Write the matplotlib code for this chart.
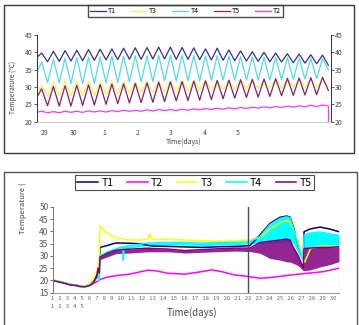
import matplotlib.pyplot as plt
import numpy as np
from matplotlib.patches import Rectangle

plt.rcParams['font.family'] = ['Noto Sans CJK KR', 'DejaVu Sans']

# ---------------- top chart: value at each trough / peak of the daily cycles ----------------
t1_trough = [38.3, 37.3, 37.4, 37.5, 37.6, 37.7, 37.8, 37.9, 38.0, 38.0, 38.1, 38.1, 38.0,
             38.0, 37.9, 37.8, 37.7, 37.6, 37.5, 37.4, 37.3, 37.2, 37.0, 36.9, 36.7, 36.3]
t1_peak = [39.8, 40.3, 40.5, 40.6, 40.8, 40.9, 41.0, 41.2, 41.3, 41.4, 41.5, 41.5, 41.4,
           41.3, 41.0, 41.2, 40.7, 40.4, 40.2, 40.0, 39.8, 39.6, 39.5, 39.3, 39.2]
t4_trough = [33.5, 31.3, 31.2, 31.0, 31.0, 31.0, 31.2, 31.3, 31.5, 31.5, 31.6, 31.8, 31.8,
             31.8, 31.8, 31.9, 32.0, 32.0, 32.0, 32.0, 32.0, 32.1, 32.2, 32.3, 32.4, 35.0]
t4_peak = [37.2, 38.0, 38.3, 38.5, 38.6, 38.7, 38.8, 38.9, 39.0, 39.0, 39.1, 39.2, 39.2,
           39.1, 39.0, 39.0, 38.9, 38.8, 38.7, 38.6, 38.6, 38.5, 38.4, 38.3, 38.2]
t3_trough = [27.5, 27.3, 27.4, 27.5, 27.6, 27.7, 27.8, 28.0, 28.2, 28.4, 28.5, 28.7, 28.8,
             29.0, 29.1, 29.2, 29.3, 29.4, 29.5, 29.6, 29.7, 29.8, 29.9, 30.0, 30.0, 30.2]
t3_peak = [30.5, 31.5, 31.8, 31.6, 31.7, 31.5, 31.6, 31.5, 31.5, 31.6, 31.6, 31.7, 31.7,
           31.8, 31.8, 31.8, 31.9, 31.9, 32.0, 32.0, 32.1, 32.1, 32.2, 32.2, 32.3]
t5_trough = [26.5, 24.6, 24.5, 24.5, 24.7, 24.8, 25.0, 25.2, 25.4, 25.5, 25.6, 25.8, 26.0,
             26.1, 26.2, 26.4, 26.6, 26.8, 27.0, 27.1, 27.3, 27.5, 27.6, 27.7, 27.8, 29.0]
t5_peak = [29.5, 30.2, 30.4, 30.5, 30.6, 30.7, 30.8, 30.9, 31.0, 31.2, 31.4, 31.5, 31.6,
           31.7, 31.8, 31.9, 32.0, 32.1, 32.2, 32.3, 32.4, 32.5, 32.6, 32.7, 32.8]
t2_trough = [22.7, 22.6, 22.6, 22.7, 22.7, 22.8, 22.8, 22.9, 23.0, 23.0, 23.1, 23.2, 23.2,
             23.3, 23.4, 23.5, 23.6, 23.7, 23.8, 23.9, 24.0, 24.1, 24.2, 24.3, 24.4, 24.5]
t2_peak = [23.0, 22.9, 23.0, 23.0, 23.1, 23.1, 23.2, 23.3, 23.3, 23.4, 23.5, 23.5, 23.6,
           23.7, 23.8, 23.9, 24.0, 24.1, 24.2, 24.3, 24.4, 24.5, 24.6, 24.7, 24.8]
top_day_labels = ['29', '30', '1', '2', '3', '4', '5']

# ---------------- bottom chart ----------------
t1_day = [0, 1.05, 1.75, 2.46, 2.8, 3.33, 3.85, 4.2, 4.56, 4.75, 4.83, 4.9, 5.6, 6.27, 6.66,
          8.05, 9.1, 9.94, 10.68, 12.08, 13.83, 15.58, 17.68, 19.08, 20.65, 21.7, 22.75,
          23.8, 24.5, 24.85, 25.2, 25.73, 26.25, 26.33, 26.95, 28.0, 29.05, 30]
t1_val = [20.0, 19.2, 18.4, 18.1, 17.8, 17.6, 18.4, 19.6, 22.0, 24.5, 23.5, 33.5, 34.2, 35.0,
          35.3, 35.2, 35.0, 34.3, 34.0, 33.9, 33.7, 33.5, 33.8, 33.9, 34.2, 38.6, 43.3,
          45.8, 46.3, 45.9, 42.0, 33.8, 29.0, 39.9, 41.0, 41.8, 41.0, 39.9]

t2_day = [0, 1.05, 1.75, 2.46, 2.8, 3.33, 3.85, 4.2, 4.56, 4.73, 4.83, 4.9, 5.6, 6.66, 8.05,
          9.1, 9.94, 10.68, 12.08, 13.83, 15.58, 16.63, 17.68, 19.08, 20.13, 20.65, 21.7,
          23.1, 24.85, 26.6, 28.35, 30]
t2_val = [20.1, 19.0, 18.3, 17.9, 17.6, 17.5, 18.0, 18.8, 19.5, 19.8, 20.0, 20.4, 21.3, 22.0,
          22.6, 23.5, 24.2, 24.0, 22.9, 22.6, 23.6, 24.3, 23.6, 22.2, 21.8, 21.5, 20.9,
          21.3, 22.2, 22.9, 23.6, 25.0]

t3_day = [0, 1.05, 1.75, 2.46, 2.8, 3.33, 3.85, 4.2, 4.56, 4.73, 4.83, 4.9, 5.6, 6.66, 8.05,
          9.1, 9.94, 10.1, 10.3, 10.68, 12.08, 13.83, 15.58, 17.68, 19.08, 20.65, 21.7,
          22.75, 23.8, 24.5, 24.85, 25.73, 26.25, 26.4, 27.0, 28.0, 29.0, 30]
t3_val = [20.3, 19.3, 18.5, 18.2, 17.9, 17.8, 18.8, 20.5, 24.0, 26.0, 30.0, 42.3, 39.4, 37.3,
          36.5, 36.5, 36.8, 39.0, 37.0, 36.8, 36.8, 36.5, 36.2, 36.0, 36.3, 36.5, 37.5,
          41.0, 43.5, 44.5, 44.0, 36.0, 28.5, 27.5, 33.0, 34.0, 34.0, 34.0]

t4_day = [0, 1.05, 1.75, 2.46, 2.8, 3.33, 3.85, 4.2, 4.56, 4.73, 4.8, 4.9, 5.6, 6.27, 7.3,
          7.35, 7.45, 8.05, 8.75, 9.94, 12.08, 13.83, 15.58, 17.68, 19.08, 20.65, 21.7,
          22.75, 23.8, 24.5, 24.85, 25.2, 25.73, 26.25, 26.33, 26.95, 28.0, 29.05, 30]
t4_val = [20.1, 19.1, 18.4, 18.0, 17.7, 17.5, 18.3, 19.3, 21.0, 22.0, 20.0, 30.0, 31.5, 32.5,
          33.8, 28.3, 33.8, 34.3, 34.6, 35.3, 35.5, 35.5, 35.2, 35.5, 35.6, 35.8, 38.0,
          42.8, 45.3, 46.0, 45.6, 41.5, 34.0, 28.5, 38.5, 39.3, 39.8, 39.0, 38.5]
# lower edge of the dense T4 swings, from day 4.9 on
t4_low = [29.0, 30.5, 31.5, 32.8, 28.3, 32.8, 33.3, 33.6, 34.3, 34.5, 34.5, 34.2, 34.5, 34.6,
          35.0, 35.0, 35.2, 35.5, 36.0, 36.0, 35.0, 31.0, 27.5, 33.0, 33.0, 33.2, 33.5, 34.0]

t5_day = [0, 1.05, 1.75, 2.46, 2.8, 3.33, 3.85, 4.2, 4.56, 4.7, 4.83, 4.9, 5.6, 6.27, 6.66,
          8.05, 9.1, 9.94, 10.68, 12.08, 13.83, 15.58, 17.68, 19.08, 20.65, 21.7, 22.75,
          23.8, 24.5, 24.85, 25.2, 25.73, 26.25, 26.33, 26.95, 28.0, 29.05, 30]
t5_val = [19.9, 19.0, 18.2, 17.9, 17.5, 17.4, 18.0, 19.0, 21.5, 25.0, 23.0, 29.5, 31.0, 32.0,
          32.4, 32.8, 33.0, 33.2, 33.0, 32.8, 32.2, 32.6, 33.0, 33.2, 33.2, 35.5, 36.0,
          36.5, 36.9, 36.5, 33.5, 30.0, 25.0, 33.0, 33.2, 33.5, 33.5, 33.8]
# lower edge of the dense T5 swings, from day 4.9 on
t5_low = [28.5, 29.5, 30.5, 31.0, 31.2, 31.5, 31.7, 31.7, 31.7, 31.2, 31.5, 31.8, 32.0, 31.8,
          31.1, 29.0, 28.3, 27.6, 27.5, 27.0, 26.0, 24.0, 24.0, 24.3, 25.5, 26.5, 27.7]

event_day = 20.41
days_row1 = list(range(1, 31))
days_row2 = [1, 2, 3, 4, 5]

W, H = 359, 325
def fx(px):
    return px / W
def fy(py):
    return 1 - py / H

fig = plt.figure(figsize=(W / 100, H / 100), dpi=100)

# panel frames
fig.patches.append(Rectangle((fx(4), fy(153)), (354 - 4) / W, (153 - 5) / H, transform=fig.transFigure,
                             fill=False, ec='#3a3a3a', lw=1.0, zorder=0))
fig.patches.append(Rectangle((fx(4), fy(335)), (357 - 4) / W, (335 - 172) / H, transform=fig.transFigure,
                             fill=False, ec='#555555', lw=1.0, zorder=0))

# ---------------- top chart ----------------
ax1 = fig.add_axes([fx(37), fy(121.7), (331 - 37) / W, (121.7 - 35) / H])
k = np.arange(len(t1_trough) + len(t1_peak))

def zig(trough, peak):
    v = np.empty(len(trough) + len(peak))
    v[0::2] = trough
    v[1::2] = peak
    return v

top_series = [('T1', t1_trough, t1_peak, '#35308f'),
              ('T3', t3_trough, t3_peak, '#ffee55'),
              ('T4', t4_trough, t4_peak, '#4fdcec'),
              ('T5', t5_trough, t5_peak, '#82226f'),
              ('T2', t2_trough, t2_peak, '#ff33ff')]
for name, tr, pk, c in top_series:
    ax1.plot(k, zig(tr, pk), color=c, lw=0.9, label=name)
ax1.vlines(k[-1], 19, t2_trough[-1], color='#ff33ff', lw=0.9)

ax1.set_xlim(0.2, 50.45)
ax1.set_ylim(20, 45)
ax1.set_yticks([20, 25, 30, 35, 40, 45])
ax1.set_xticks([1.56, 6.52, 11.65, 17.46, 23.1, 28.92, 34.56])
ax1.set_xticklabels(top_day_labels)
ax1.tick_params(axis='y', left=True, right=True, labelleft=True, labelright=True,
                direction='out', length=2, width=0.6, pad=1, labelsize=5, colors='#444444')
ax1.tick_params(axis='x', length=0, pad=5, labelsize=5, colors='#444444')
ax1.spines['top'].set_visible(False)
for s in ['left', 'right']:
    ax1.spines[s].set_color('#333333')
    ax1.spines[s].set_linewidth(0.7)
ax1.spines['bottom'].set_color('#bbbbbb')
ax1.spines['bottom'].set_linewidth(0.5)
ax1.set_xlabel('Time(days)', fontsize=5, color='#444444', labelpad=1)
fig.text(fx(13), fy(87), 'Temperature (℃)', rotation=90, fontsize=4.8, color='#444444',
         ha='center', va='center')
leg1 = ax1.legend(loc='center', bbox_to_anchor=(fx(185.5), fy(11)), bbox_transform=fig.transFigure,
                  ncol=5, fontsize=5, frameon=True, fancybox=False, handlelength=2.3,
                  handletextpad=0.3, columnspacing=2.2, borderpad=0.25, borderaxespad=0)
leg1.get_frame().set_edgecolor('#222222')
leg1.get_frame().set_linewidth(1.0)

# ---------------- bottom chart ----------------
ax2 = fig.add_axes([fx(53.3), fy(292.7), (339 - 53.3) / W, (292.7 - 207) / H])
ax2.plot(t1_day, t1_val, color='#000080', lw=1.1, label='T1')
ax2.plot(t2_day, t2_val, color='#ff00ff', lw=1.1, label='T2')
ax2.plot(t3_day, t3_val, color='#ffff00', lw=1.1, label='T3')
ax2.fill_between(t4_day[11:], t4_low, t4_val[11:], color='#00ffff', lw=0)
ax2.plot(t4_day, t4_val, color='#00ffff', lw=1.1, label='T4')
ax2.fill_between(t5_day[11:], t5_low, t5_val[11:], color='#800080', lw=0, alpha=0.85)
ax2.plot(t5_day, t5_val, color='#800080', lw=1.1, label='T5')
ax2.axvline(event_day, color='#55407a', lw=1.0)
ax2.vlines(t1_day[-1], 15, t1_val[-1], color='#9090a8', lw=0.8)

ax2.set_xlim(0, 30)
ax2.set_ylim(15, 50)
ax2.set_yticks(range(15, 51, 5))
ax2.set_xticks([])
ax2.tick_params(axis='y', direction='out', length=2, width=0.6, pad=1.5, labelsize=6, colors='#555555')
for s in ['top', 'right']:
    ax2.spines[s].set_visible(False)
ax2.spines['left'].set_color('#777777')
ax2.spines['bottom'].set_color('#999999')
ax2.spines['left'].set_linewidth(0.7)
ax2.spines['bottom'].set_linewidth(0.7)

fig.text(fx(51), fy(299), '   '.join(str(d) for d in days_row1), fontsize=4.25, color='#666666',
         ha='left', va='center')
fig.text(fx(51), fy(307), '   '.join(str(d) for d in days_row2), fontsize=4.25, color='#666666',
         ha='left', va='center')
fig.text(fx(192), fy(313), 'Time(days)', fontsize=7, color='#444444', ha='center', va='center')
fig.text(fx(23), fy(208), 'Temperature (', rotation=90, fontsize=5.5, color='#444444',
         ha='center', va='center')
leg2 = ax2.legend(loc='center', bbox_to_anchor=(fx(194.5), fy(182.5)), bbox_transform=fig.transFigure,
                  ncol=5, fontsize=7.5, frameon=True, fancybox=False, handlelength=2.0,
                  handletextpad=0.3, columnspacing=1.3, borderpad=0.2, borderaxespad=0)
leg2.get_frame().set_edgecolor('#222222')
leg2.get_frame().set_linewidth(0.8)

fig.savefig('out.png', dpi=100)
